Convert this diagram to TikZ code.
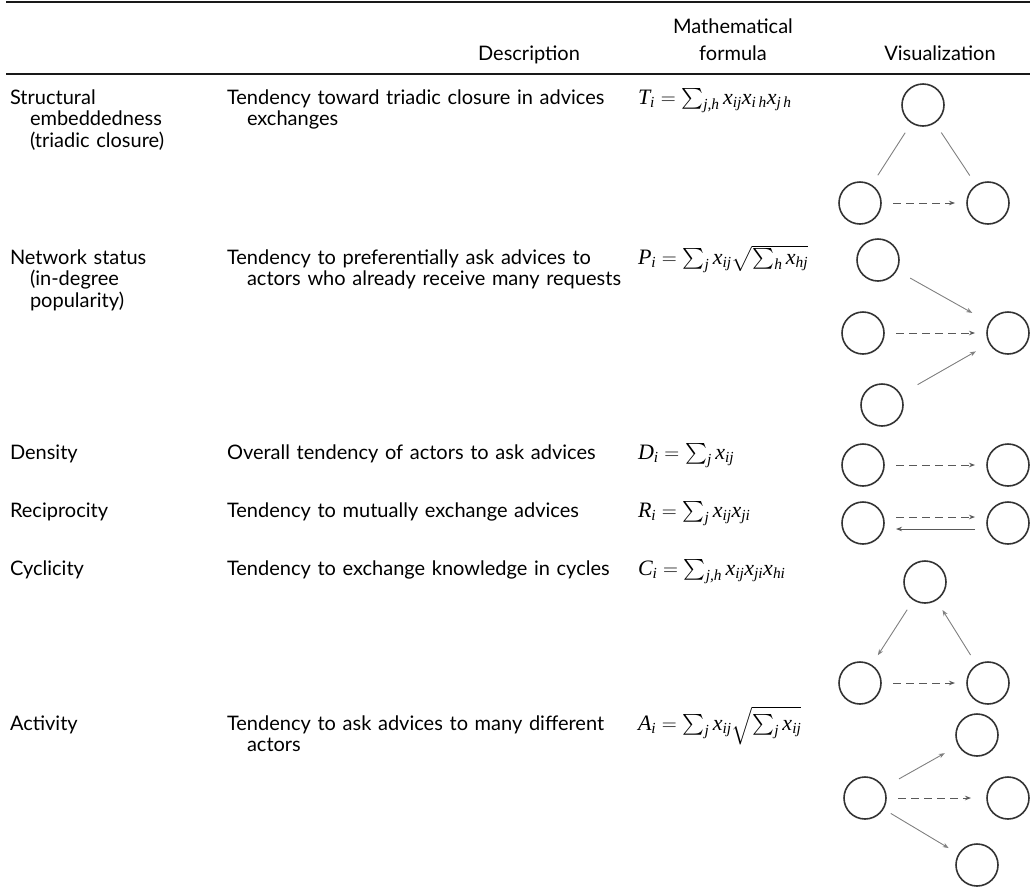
\documentclass[tikz,border=0pt]{standalone}
\usepackage{amsmath}
\usepackage{fontspec}
\setmainfont[WordSpace=1.3]{Lato}
\newfontfamily\tms{Liberation Serif}
\newcommand\mv[1]{\text{\tms\itshape #1}}
\usetikzlibrary{arrows.meta}
\begin{document}
\begin{tikzpicture}[x=1pt,y=-1pt,
  every node/.style={font=\fontsize{20}{22}\selectfont, inner sep=0pt, outer sep=0pt},
  lbl/.style={anchor=base west},
  hdr/.style={anchor=base},
  formula/.style={anchor=base west, font=\fontsize{22}{22}\selectfont},
  actor/.style={circle, draw=black!80, line width=1.6pt, minimum size=42pt},
  linkline/.style={draw=black!50, line width=0.9pt, shorten >=12pt, shorten <=12pt},
  linkarrow/.style={linkline, -{Stealth[length=6pt,width=4.5pt]}},
  dasharrow/.style={linkarrow, draw=black!65, dash pattern=on 8pt off 5pt},
  tablerule/.style={line width=2.4pt, draw=black!90}]
\useasboundingbox (0,0) rectangle (1030,892);
% rules
\draw[tablerule] (6,2) -- (1030,2);
\draw[tablerule] (6,74) -- (1030,74);
% header
\node[hdr] (hDesc) at (529,60) {Description};
\node[hdr] (hMath1) at (733,33) {Mathematical};
\node[hdr] (hMath2) at (733,60) {formula};
\node[hdr] (hVis) at (940,60) {Visualization};
% column 1
\node[lbl] (c1a) at (10,104) {Structural};
\node[lbl] (c1b) at (30,125.5) {embeddedness};
\node[lbl] (c1c) at (30,147) {(triadic closure)};
\node[lbl] (c2a) at (10,264) {Network status};
\node[lbl] (c2b) at (30,285.5) {(in-degree};
\node[lbl] (c2c) at (30,307) {popularity)};
\node[lbl] (c3) at (10,459) {Density};
\node[lbl] (c4) at (10,517) {Reciprocity};
\node[lbl] (c5) at (10,575) {Cyclicity};
\node[lbl] (c6) at (10,730) {Activity};
% column 2
\node[lbl] (d1a) at (227,104) {Tendency toward triadic closure in advices};
\node[lbl] (d1b) at (247,125.5) {exchanges};
\node[lbl] (d2a) at (227,264) {Tendency to preferentially ask advices to};
\node[lbl] (d2b) at (247,285.5) {actors who already receive many requests};
\node[lbl] (d3) at (227,459) {Overall tendency of actors to ask advices};
\node[lbl] (d4) at (227,517) {Tendency to mutually exchange advices};
\node[lbl] (d5) at (227,575) {Tendency to exchange knowledge in cycles};
\node[lbl] (d6a) at (227,730) {Tendency to ask advices to many different};
\node[lbl] (d6b) at (247,751.5) {actors};
% column 3
\node[formula] (f1) at (638,104) {$\mv{T}_{\mv{i}}=\sum_{\mv{j,h}}\mv{x}_{\mv{ij}}\mv{x}_{\mv{i\,h}}\mv{x}_{\mv{j\,h}}$};
\node[formula] (f2) at (638,264) {$\mv{P}_{\mv{i}}=\sum_{\mv{j}}\mv{x}_{\mv{ij}}\sqrt{\sum_{\mv{h}}\mv{x}_{\mv{hj}}}$};
\node[formula] (f3) at (638,459) {$\mv{D}_{\mv{i}}=\sum_{\mv{j}}\mv{x}_{\mv{ij}}$};
\node[formula] (f4) at (638,517) {$\mv{R}_{\mv{i}}=\sum_{\mv{j}}\mv{x}_{\mv{ij}}\mv{x}_{\mv{ji}}$};
\node[formula] (f5) at (638,575) {$\mv{C}_{\mv{i}}=\sum_{\mv{j,h}}\mv{x}_{\mv{ij}}\mv{x}_{\mv{ji}}\mv{x}_{\mv{hi}}$};
\node[formula] (f6) at (638,730) {$\mv{A}_{\mv{i}}=\sum_{\mv{j}}\mv{x}_{\mv{ij}}\sqrt{\sum_{\mv{j}}\mv{x}_{\mv{ij}}}$};
% visualization: triadic closure
\node[actor] (t1) at (923,105) {};
\node[actor] (t2) at (860,203) {};
\node[actor] (t3) at (988,203) {};
\draw[linkline] (t1) -- (t2);
\draw[linkline] (t1) -- (t3);
\draw[dasharrow] (t2) -- (t3);
% popularity
\node[actor] (p1) at (878,260) {};
\node[actor] (p2) at (863,333) {};
\node[actor] (p3) at (882,405) {};
\node[actor] (p4) at (1008,333) {};
\draw[linkarrow, shorten <=16pt, shorten >=20pt] (p1) -- (p4);
\draw[dasharrow] (p2) -- (p4);
\draw[linkarrow, shorten <=20pt, shorten >=16pt] (p3) -- (p4);
% density
\node[actor] (n1) at (863,465) {};
\node[actor] (n2) at (1008,465) {};
\draw[dasharrow] (n1) -- (n2);
% reciprocity
\node[actor] (r1) at (863,523) {};
\node[actor] (r2) at (1008,523) {};
\draw[dasharrow] ([yshift=6pt]r1.east) -- ([yshift=6pt]r2.west);
\draw[linkarrow, draw=black!65] ([yshift=-6pt]r2.west) -- ([yshift=-6pt]r1.east);
% cyclicity
\node[actor] (y1) at (925,582) {};
\node[actor] (y2) at (860,683) {};
\node[actor] (y3) at (988,683) {};
\draw[linkarrow] (y1) -- (y2);
\draw[linkarrow] (y3) -- (y1);
\draw[dasharrow] (y2) -- (y3);
% activity
\node[actor] (a1) at (865,798) {};
\node[actor] (a2) at (977,735) {};
\node[actor] (a3) at (1008,798) {};
\node[actor] (a4) at (977,865) {};
\draw[linkarrow, shorten <=18pt, shorten >=16pt] (a1) -- (a2);
\draw[dasharrow, shorten >=16pt] (a1) -- (a3);
\draw[linkarrow, shorten <=9pt] (a1) -- (a4);
\end{tikzpicture}
\end{document}
